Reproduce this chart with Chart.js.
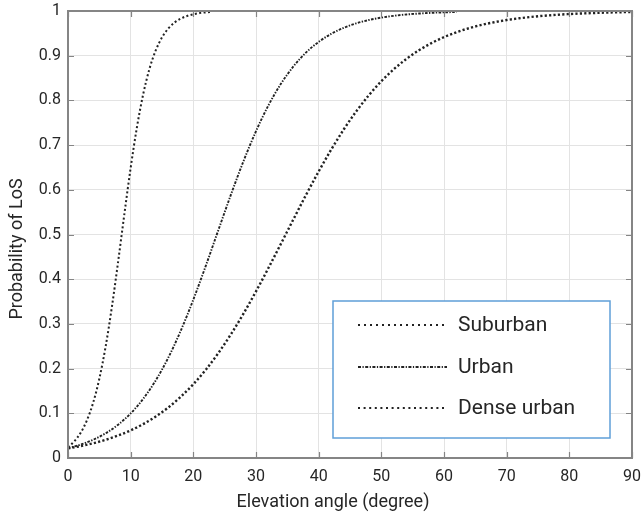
<!DOCTYPE html>
<html>
<head>
<meta charset="utf-8">
<script src="https://cdn.jsdelivr.net/npm/chart.js@4.4.0/dist/chart.umd.min.js"></script>
<style>
html,body{margin:0;padding:0;background:#fff;}
#wrap{position:relative;width:641px;height:516px;}
</style>
</head>
<body>
<div id="wrap"><canvas id="c"></canvas></div>
<script>
// ---- data ----
const seriesNames = ['Suburban', 'Urban', 'Dense urban'];

const suburbanX = [0,1,2,3,4,5,6,7,8,9,10,11,12,13,14,15,16,17,18,19,20,21,22,23];
const suburbanY = [0.0245,0.0372,0.0560,0.0837,0.1230,0.1774,0.2490,0.3376,0.4393,0.5463,0.6493,0.7400,0.8139,0.8706,0.9118,0.9408,0.9607,0.9741,0.9830,0.9889,0.9927,0.9953,0.9969,0.9980];

const urbanX = [0,2,4,6,8,10,12,14,16,18,20,22,24,26,28,30,32,34,36,38,40,42,44,46,48,50,52,54,56,58,60,62];
const urbanY = [0.0219,0.0299,0.0407,0.0552,0.0745,0.0997,0.1324,0.1736,0.2244,0.2850,0.3544,0.4305,0.5101,0.5892,0.6639,0.7311,0.7893,0.8376,0.8766,0.9073,0.9309,0.9489,0.9623,0.9724,0.9798,0.9852,0.9892,0.9922,0.9943,0.9959,0.9970,0.9978];

const denseX = [0,2,4,6,8,10,12,14,16,18,20,22,24,26,28,30,32,34,36,38,40,42,44,46,48,50,52,54,56,58,60,62,64,66,68,70,72,74,76,78,80,82,84,86,88,90];
const denseY = [0.0215,0.0266,0.0329,0.0407,0.0502,0.0618,0.0758,0.0927,0.1130,0.1370,0.1651,0.1977,0.2350,0.2768,0.3229,0.3727,0.4255,0.4799,0.5348,0.5890,0.6410,0.6899,0.7349,0.7755,0.8115,0.8429,0.8699,0.8928,0.9121,0.9282,0.9416,0.9526,0.9616,0.9689,0.9749,0.9798,0.9837,0.9869,0.9894,0.9915,0.9932,0.9945,0.9956,0.9965,0.9972,0.9977];

const xTicks = [0,10,20,30,40,50,60,70,80,90];
const yTicks = [0,0.1,0.2,0.3,0.4,0.5,0.6,0.7,0.8,0.9,1];
const xTitle = 'Elevation angle (degree)';
const yTitle = 'Probability of LoS';

// ---- styling ----
const lineColor = '#222222';
const dashes = [[2,2.4],[2.6,1.4,1.4,1.4],[2.2,2.2]];
const legendDashes = [[2,4],[3,1.5,1.2,1.5],[2,3.6]];
const widths = [2, 1.9, 2.4];
const FONT = 'Roboto, "Noto Sans", sans-serif';
const textColor = '#262626';

function pts(xs, ys){ return xs.map((x,i)=>({x:x, y:ys[i]})); }

const datasets = [
  {label: seriesNames[0], data: pts(suburbanX, suburbanY)},
  {label: seriesNames[1], data: pts(urbanX, urbanY)},
  {label: seriesNames[2], data: pts(denseX, denseY)}
].map((d,i)=>Object.assign(d,{
  borderColor: lineColor, borderWidth: widths[i], borderDash: dashes[i],
  pointRadius: 0, fill: false, cubicInterpolationMode: 'monotone'
}));

const frameColor = '#858585';

const framePlugin = {
  id: 'frameAndLegend',
  afterDatasetsDraw(chart){
    const {ctx, chartArea: a, scales} = chart;
    ctx.save();
    // inner tick marks
    ctx.strokeStyle = frameColor;
    ctx.lineWidth = 1.2;
    const tl = 6;
    ctx.beginPath();
    xTicks.forEach(v=>{
      const px = Math.round(scales.x.getPixelForValue(v))+0.5;
      ctx.moveTo(px, a.bottom); ctx.lineTo(px, a.bottom - tl);
      ctx.moveTo(px, a.top); ctx.lineTo(px, a.top + tl);
    });
    yTicks.forEach(v=>{
      const py = Math.round(scales.y.getPixelForValue(v))+0.5;
      ctx.moveTo(a.left, py); ctx.lineTo(a.left + tl, py);
      ctx.moveTo(a.right, py); ctx.lineTo(a.right - tl, py);
    });
    ctx.stroke();
    // frame
    ctx.lineWidth = 2;
    ctx.strokeRect(a.left, a.top, a.right - a.left, a.bottom - a.top);

    // axis titles
    ctx.fillStyle = textColor;
    ctx.font = '18px ' + FONT;
    ctx.textAlign = 'center';
    ctx.textBaseline = 'alphabetic';
    ctx.fillText(xTitle, 333, 507);
    ctx.save();
    ctx.translate(22, 249);
    ctx.rotate(-Math.PI/2);
    ctx.fillText(yTitle, 0, 0);
    ctx.restore();

    // legend box
    const lx = 333, ly = 301, lw = 277, lh = 137;
    ctx.fillStyle = '#ffffff';
    ctx.fillRect(lx, ly, lw, lh);
    ctx.strokeStyle = '#5f9fd8';
    ctx.lineWidth = 1.5;
    ctx.strokeRect(lx, ly, lw, lh);
    ctx.font = '21px ' + FONT;
    ctx.textBaseline = 'middle';
    ctx.textAlign = 'left';
    seriesNames.forEach((name,i)=>{
      const cy = Math.round(ly + 24 + i*41.7);
      ctx.strokeStyle = lineColor;
      ctx.lineWidth = 2;
      ctx.setLineDash(legendDashes[i]);
      ctx.beginPath();
      ctx.moveTo(lx + 25, cy); ctx.lineTo(lx + 114, cy);
      ctx.stroke();
      ctx.setLineDash([]);
      ctx.fillStyle = textColor;
      ctx.fillText(name, lx + 125, cy + 1);
    });
    ctx.restore();
  }
};

function noPad(s){ s.paddingLeft = 0; s.paddingRight = 0; s.paddingTop = 0; s.paddingBottom = 0; }

new Chart(document.getElementById('c'), {
  type: 'line',
  data: {datasets},
  options: {
    responsive: true,
    maintainAspectRatio: false,
    animation: false,
    layout: {padding: {left: 0, right: 9, top: 11, bottom: 0}},
    plugins: {legend: {display: false}, tooltip: {enabled: false}},
    scales: {
      x: {
        type: 'linear', min: 0, max: 90,
        afterBuildTicks: s => { s.ticks = xTicks.map(v=>({value:v})); },
        afterFit: s => { s.height = 58; noPad(s); },
        grid: {color: '#e3e3e3', lineWidth: 1, drawTicks: false},
        border: {display: false},
        ticks: {color: textColor, font: {family: FONT, size: 16}, padding: 9, maxRotation: 0,
                callback: v => String(v)},
        title: {display: false, text: xTitle}
      },
      y: {
        type: 'linear', min: 0, max: 1,
        afterBuildTicks: s => { s.ticks = yTicks.map(v=>({value:v})); },
        afterFit: s => { s.width = 68; noPad(s); },
        grid: {color: '#e3e3e3', lineWidth: 1, drawTicks: false},
        border: {display: false},
        ticks: {color: textColor, font: {family: FONT, size: 16}, padding: 7,
                callback: v => String(Number(v.toFixed(1)))},
        title: {display: false, text: yTitle}
      }
    }
  },
  plugins: [framePlugin]
});
</script>
</body>
</html>
